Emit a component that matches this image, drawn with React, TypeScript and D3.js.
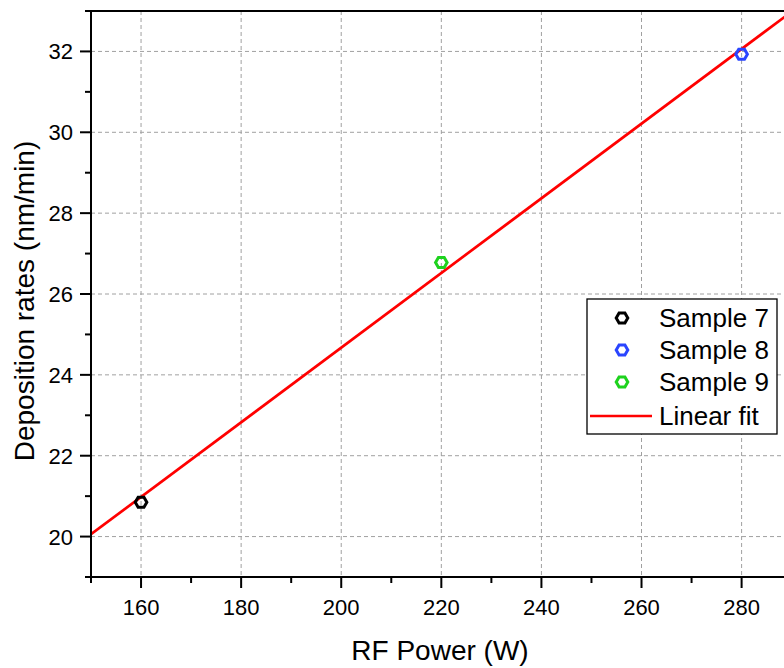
import React from "react";
import * as d3 from "d3";

const sampleNames = ["Sample 7", "Sample 8", "Sample 9"];
const rfPower = [160, 280, 220];
const depositionRates = [20.85, 31.93, 26.78];
const sampleColors = ["#000000", "#2a45ff", "#1ed21e"];
const xMajorTicks = [160, 180, 200, 220, 240, 260, 280, 300];
const xMinorTicks = [150, 170, 190, 210, 230, 250, 270, 290];
const yMajorTicks = [20, 22, 24, 26, 28, 30, 32];
const yMinorTicks = [19, 21, 23, 25, 27, 29, 31, 33];
const fitLabel = "Linear fit";

const W = 784;
const H = 668;
const left = 91;
const top = 11;
const bottom = 577;
const right = 841.7;

function hexPath(cx: number, cy: number, r: number) {
  const pts = d3.range(6).map((i) => {
    const a = (Math.PI / 3) * i;
    return [cx + r * Math.cos(a), cy + r * Math.sin(a)];
  });
  return "M" + pts.map((p) => p.join(",")).join("L") + "Z";
}

export default function App() {
  const x = d3.scaleLinear().domain([150, 300]).range([left, right]);
  const y = d3.scaleLinear().domain([19, 33]).range([bottom, top]);

  // least squares fit
  const mx = d3.mean(rfPower)!;
  const my = d3.mean(depositionRates)!;
  const sxy = d3.sum(rfPower.map((v, i) => (v - mx) * (depositionRates[i] - my)));
  const sxx = d3.sum(rfPower.map((v) => (v - mx) ** 2));
  const slope = sxy / sxx;
  const intercept = my - slope * mx;
  const fitX = [150, 300];
  const line = d3
    .line<number>()
    .x((d) => x(d))
    .y((d) => y(intercept + slope * d));

  const font = "Liberation Sans, Arial, sans-serif";
  const legendX = 587;
  const legendY = 299;
  const hexR = 5.8;
  const hexW = 3;

  return (
    <svg
      width={W}
      height={H}
      style={{ position: "absolute", left: 0, top: 0, background: "#fff" }}
      fontFamily={font}
    >
      <defs>
        <clipPath id="plotclip">
          <rect x={left} y={top} width={right - left} height={bottom - top} />
        </clipPath>
      </defs>
      <rect x={0} y={0} width={W} height={H} fill="#fff" />
      {/* grid */}
      <g stroke="#a0a0a0" strokeWidth={1} strokeDasharray="4,3">
        {xMajorTicks.map((t) => (
          <line key={"gx" + t} x1={x(t)} x2={x(t)} y1={top} y2={bottom} />
        ))}
        {yMajorTicks.map((t) => (
          <line key={"gy" + t} x1={left} x2={right} y1={y(t)} y2={y(t)} />
        ))}
      </g>
      {/* fit line */}
      <path
        d={line(fitX)!}
        stroke="#ff0000"
        strokeWidth={2.7}
        fill="none"
        clipPath="url(#plotclip)"
      />
      {/* points */}
      {rfPower.map((p, i) => (
        <path
          key={"pt" + i}
          d={hexPath(x(p), y(depositionRates[i]), hexR)}
          fill="none"
          stroke={sampleColors[i]}
          strokeWidth={hexW}
        />
      ))}
      {/* frame */}
      <g stroke="#000" strokeWidth={2} fill="none">
        <line x1={left} x2={right} y1={top} y2={top} />
        <line x1={left} x2={right} y1={bottom} y2={bottom} />
        <line x1={left} x2={left} y1={top - 1} y2={bottom + 1} />
        <line x1={right} x2={right} y1={top} y2={bottom} />
        {xMajorTicks.map((t) => (
          <line key={"xt" + t} x1={x(t)} x2={x(t)} y1={bottom} y2={bottom + 11} />
        ))}
        {xMinorTicks.map((t) => (
          <line key={"xm" + t} x1={x(t)} x2={x(t)} y1={bottom} y2={bottom + 6} />
        ))}
        {yMajorTicks.map((t) => (
          <line key={"yt" + t} x1={left} x2={left - 11} y1={y(t)} y2={y(t)} />
        ))}
        {yMinorTicks.map((t) => (
          <line key={"ym" + t} x1={left} x2={left - 6} y1={y(t)} y2={y(t)} />
        ))}
      </g>
      {/* tick labels */}
      <g fontSize={22} fill="#000">
        {xMajorTicks
          .filter((t) => x(t) + 20 < W)
          .map((t) => (
            <text key={"xl" + t} x={x(t)} y={615} textAnchor="middle">
              {t}
            </text>
          ))}
        {yMajorTicks.map((t) => (
          <text key={"yl" + t} x={73} y={y(t) + 8} textAnchor="end">
            {t}
          </text>
        ))}
      </g>
      {/* axis titles */}
      <text x={440} y={660} fontSize={28} textAnchor="middle" fill="#000">
        RF Power (W)
      </text>
      <text
        transform={`translate(34,301) rotate(-90)`}
        fontSize={28}
        textAnchor="middle"
        fill="#000"
      >
        Deposition rates (nm/min)
      </text>
      {/* legend */}
      <rect
        x={legendX}
        y={legendY}
        width={190}
        height={135}
        fill="#fff"
        stroke="#000"
        strokeWidth={1.3}
      />
      {sampleNames.map((n, i) => (
        <g key={"lg" + i}>
          <path
            d={hexPath(622, 318 + i * 32, hexR)}
            fill="none"
            stroke={sampleColors[i]}
            strokeWidth={hexW}
          />
          <text x={659} y={318 + i * 32 + 9} fontSize={26} fill="#000">
            {n}
          </text>
        </g>
      ))}
      <line x1={590} x2={652} y1={416} y2={416} stroke="#ff0000" strokeWidth={2.7} />
      <text x={659} y={425} fontSize={26} fill="#000">
        {fitLabel}
      </text>
    </svg>
  );
}
